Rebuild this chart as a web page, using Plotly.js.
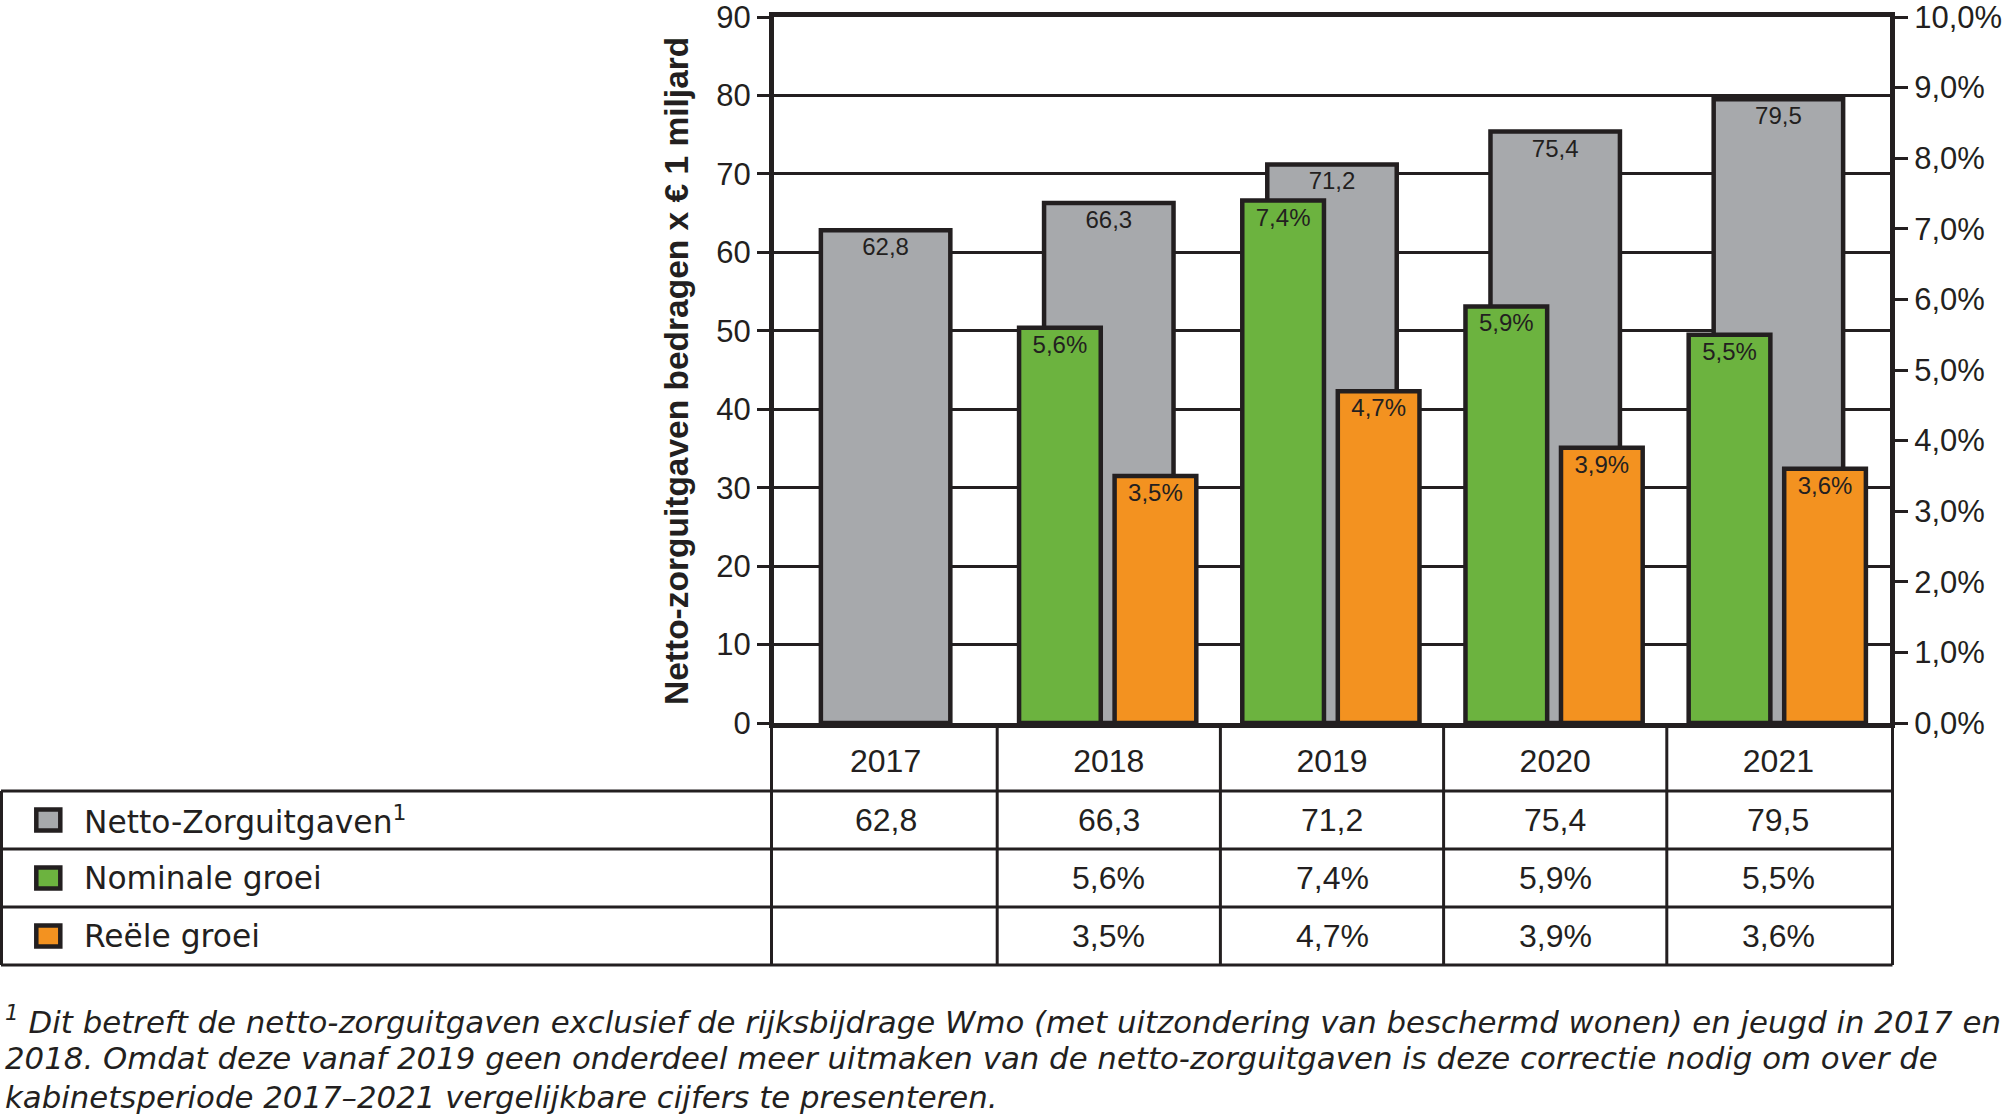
<!DOCTYPE html>
<html>
<head>
<meta charset="utf-8">
<script src="https://cdn.plot.ly/plotly-3.0.1.min.js"></script>
<style>
  html, body { margin: 0; padding: 0; background: #ffffff; }
  #chart { width: 2009px; height: 1117px; }
</style>
</head>
<body>
<div id="chart"></div>
<script>
// ---- data ----
const years = ['2017', '2018', '2019', '2020', '2021'];
const nettoZorguitgaven = [62.8, 66.3, 71.2, 75.4, 79.5];
const nominaleGroei = [null, 5.6, 7.4, 5.9, 5.5];
const reeleGroei = [null, 3.5, 4.7, 3.9, 3.6];
const leftTickVals = [0, 10, 20, 30, 40, 50, 60, 70, 80, 90];
const rightTickVals = [0, 1, 2, 3, 4, 5, 6, 7, 8, 9, 10];
const rowLabels = ['Netto-Zorguitgaven<sup>1</sup>', 'Nominale groei', 'Reële groei'];
const yTitle = 'Netto-zorguitgaven bedragen x € 1 miljard';
const footnoteLines = [
  '<sup>1</sup> Dit betreft de netto-zorguitgaven exclusief de rijksbijdrage Wmo (met uitzondering van beschermd wonen) en jeugd in 2017 en',
  '2018. Omdat deze vanaf 2019 geen onderdeel meer uitmaken van de netto-zorguitgaven is deze correctie nodig om over de',
  'kabinetsperiode 2017–2021 vergelijkbare cijfers te presenteren.'
];

// ---- style ----
const INK = '#231f20';
const GREY = '#a7a9ac';
const GREEN = '#6cb33f';
const ORANGE = '#f39220';
const W = 2009, H = 1117;
const M = { l: 774, r: 119, t: 17, b: 394 };
const PW = W - M.l - M.r, PH = H - M.t - M.b;
const px = X => (X - M.l) / PW;          // pixel -> paper x
const py = Y => (M.t + PH - Y) / PH;     // pixel -> paper y
const NUM_FONT = 'Liberation Sans, Arial, sans-serif';
const TXT_FONT = 'DejaVu Sans, sans-serif';

const fmt = (v, suffix) => v == null ? '' : v.toFixed(1).replace('.', ',') + (suffix || '');
const keep = arr => arr.map((v, i) => i).filter(i => arr[i] != null);

const barLine = { color: INK, width: 4.5 };
const labelFont = { family: NUM_FONT, size: 24, color: INK };

const nomIdx = keep(nominaleGroei);
const reeIdx = keep(reeleGroei);

const traces = [
  {
    type: 'bar', name: 'Netto-Zorguitgaven', x: years, y: nettoZorguitgaven,
    width: 0.58, offset: -0.29,
    marker: { color: GREY, line: barLine },
    text: nettoZorguitgaven.map(v => fmt(v)), textposition: 'inside', insidetextanchor: 'end',
    textangle: 0, insidetextfont: labelFont, constraintext: 'none',
    hoverinfo: 'skip'
  },
  {
    type: 'bar', name: 'Nominale groei', yaxis: 'y2',
    x: nomIdx.map(i => years[i]), y: nomIdx.map(i => nominaleGroei[i]),
    width: 0.366, offset: -0.402,
    marker: { color: GREEN, line: barLine },
    text: nomIdx.map(i => fmt(nominaleGroei[i], '%')), textposition: 'inside', insidetextanchor: 'end',
    textangle: 0, insidetextfont: labelFont, constraintext: 'none',
    hoverinfo: 'skip'
  },
  {
    type: 'bar', name: 'Reële groei', yaxis: 'y2',
    x: reeIdx.map(i => years[i]), y: reeIdx.map(i => reeleGroei[i]),
    width: 0.366, offset: 0.026,
    marker: { color: ORANGE, line: barLine },
    text: reeIdx.map(i => fmt(reeleGroei[i], '%')), textposition: 'inside', insidetextanchor: 'end',
    textangle: 0, insidetextfont: labelFont, constraintext: 'none',
    hoverinfo: 'skip'
  }
];

// ---- table (shapes + annotations) ----
const shapes = [];
const annotations = [];
const rowLines = [791, 849, 907, 965];       // pixel y of horizontal lines
const rowCenters = [820, 878, 936];
const tableBottom = rowLines[rowLines.length - 1];
const lineStyle = { color: INK, width: 3 };

rowLines.forEach(Y => shapes.push({
  type: 'line', xref: 'paper', yref: 'paper',
  x0: px(1), x1: px(W - M.r + 2.5), y0: py(Y), y1: py(Y), line: lineStyle
}));
// left border of label column
shapes.push({ type: 'line', xref: 'paper', yref: 'paper',
  x0: px(1.5), x1: px(1.5), y0: py(rowLines[0]), y1: py(tableBottom), line: lineStyle });
// column boundaries (one per category edge; outer ones continue the axis lines)
for (let i = 0; i <= years.length; i++) {
  let xp = i / years.length;
  if (i === 0) xp = px(M.l - 2.5);
  if (i === years.length) xp = px(W - M.r + 2.5);
  shapes.push({ type: 'line', xref: 'paper', yref: 'paper',
    x0: xp, x1: xp, y0: 0, y1: py(tableBottom), line: lineStyle });
}

// legend swatches
const swatchColors = [GREY, GREEN, ORANGE];
rowCenters.forEach((Yc, r) => shapes.push({
  type: 'rect', xref: 'paper', yref: 'paper', layer: 'above',
  x0: px(36.3), x1: px(60.3), y0: py(Yc + 10.5), y1: py(Yc - 10.5),
  fillcolor: swatchColors[r], line: { color: INK, width: 4.5 }
}));

// row labels
rowLabels.forEach((t, r) => annotations.push({
  xref: 'paper', yref: 'paper', x: px(82), y: py(rowCenters[r]),
  xanchor: 'left', yanchor: 'middle', text: t, showarrow: false,
  font: { family: TXT_FONT, size: 31.3, color: INK }
}));

// table values
const seriesRows = [
  nettoZorguitgaven.map(v => fmt(v)),
  nominaleGroei.map(v => fmt(v, '%')),
  reeleGroei.map(v => fmt(v, '%'))
];
seriesRows.forEach((vals, r) => vals.forEach((t, i) => {
  if (!t) return;
  annotations.push({
    xref: 'paper', yref: 'paper', x: (i + 0.5) / years.length, y: py(rowCenters[r]),
    xanchor: 'center', yanchor: 'middle', text: t, showarrow: false,
    font: { family: NUM_FONT, size: 32, color: INK }
  });
}));

// y-axis title
annotations.push({
  xref: 'paper', yref: 'paper', x: px(676), y: py(371),
  xanchor: 'center', yanchor: 'middle', textangle: -90, showarrow: false,
  text: yTitle, font: { family: NUM_FONT, size: 33.5, color: INK, weight: 'bold' }
});

// footnote
const footCenters = [1020, 1058, 1097];
footnoteLines.forEach((t, k) => annotations.push({
  xref: 'paper', yref: 'paper', x: px(3), y: py(footCenters[k]),
  xanchor: 'left', yanchor: 'middle', text: t, showarrow: false,
  font: { family: TXT_FONT, size: 30.8, color: INK, style: 'italic' }
}));

const layout = {
  width: W, height: H,
  margin: { l: M.l, r: M.r, t: M.t, b: M.b, pad: 0 },
  paper_bgcolor: '#ffffff', plot_bgcolor: '#ffffff',
  separators: ',.',
  barmode: 'overlay',
  showlegend: false,
  font: { family: NUM_FONT, color: INK },
  xaxis: {
    type: 'category', range: [-0.5, years.length - 0.5],
    categoryorder: 'array', categoryarray: years,
    showline: true, linecolor: INK, linewidth: 5, mirror: true,
    ticks: '', showgrid: false, zeroline: false,
    tickfont: { family: NUM_FONT, size: 32, color: INK },
    ticklabelstandoff: 6, fixedrange: true
  },
  yaxis: {
    range: [0, 90], tickmode: 'array', tickvals: leftTickVals,
    ticktext: leftTickVals.map(v => String(v)),
    ticks: 'outside', ticklen: 12, tickwidth: 3, tickcolor: INK,
    showgrid: true, gridcolor: INK, gridwidth: 3,
    showline: true, linecolor: INK, linewidth: 5, zeroline: false,
    ticklabeloverflow: 'allow',
    tickfont: { family: NUM_FONT, size: 31, color: INK }, fixedrange: true
  },
  yaxis2: {
    overlaying: 'y', side: 'right',
    range: [0, 10], tickmode: 'array', tickvals: rightTickVals,
    ticktext: rightTickVals.map(v => fmt(v, '%')),
    ticks: 'outside', ticklen: 13, tickwidth: 3, tickcolor: INK,
    showgrid: false, showline: true, linecolor: INK, linewidth: 5, zeroline: false,
    ticklabeloverflow: 'allow',
    tickfont: { family: NUM_FONT, size: 31, color: INK }, fixedrange: true
  },
  shapes: shapes,
  annotations: annotations
};

Plotly.newPlot('chart', traces, layout, { displayModeBar: false, staticPlot: true });
</script>
</body>
</html>
